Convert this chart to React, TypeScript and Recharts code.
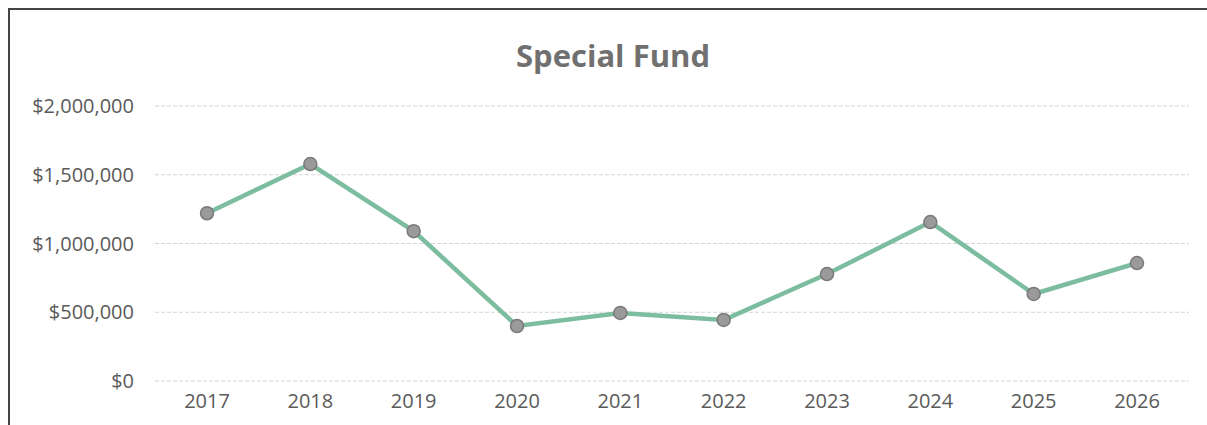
import { CartesianGrid, Line, LineChart, XAxis, YAxis } from "recharts";

const years = ["2017", "2018", "2019", "2020", "2021", "2022", "2023", "2024", "2025", "2026"];
const fundValues = [1220000, 1578000, 1090000, 400000, 495000, 444000, 778000, 1156000, 633000, 858000];
const yTicks = [0, 500000, 1000000, 1500000, 2000000];

const data = years.map((year, i) => ({ year, value: fundValues[i] }));

const fmt = (v: number) => "$" + v.toLocaleString("en-US");

export default function App() {
  const font = "'Open Sans', 'Noto Sans', sans-serif";
  return (
    <div
      style={{
        position: "fixed",
        top: 8,
        left: 8,
        boxSizing: "border-box",
        width: 1199,
        height: 417,
        overflow: "hidden",
        borderTop: "2px solid #444",
        borderLeft: "2px solid #444",
        background: "#fff",
        fontFamily: font,
      }}
    >
      <div
        style={{
          position: "absolute",
          top: 24,
          left: 0,
          width: 1206,
          textAlign: "center",
          fontSize: 31,
          fontWeight: 700,
          color: "#707070",
        }}
      >
        Special Fund
      </div>
      <LineChart
        width={1197}
        height={415}
        data={data}
        margin={{ top: 96, right: 18, bottom: 8, left: 0 }}
      >
        <CartesianGrid vertical={false} stroke="#d4d4d4" strokeDasharray="4 2" />
        <XAxis
          dataKey="year"
          height={36}
          axisLine={false}
          tickLine={false}
          padding={{ left: 52, right: 52 }}
          tick={{ fill: "#5a5a5a", fontSize: 20, fontFamily: font }}
          tickMargin={7}
        />
        <YAxis
          width={145}
          domain={[0, 2000000]}
          ticks={yTicks}
          tickFormatter={fmt}
          axisLine={false}
          tickLine={false}
          tick={{ fill: "#5a5a5a", fontSize: 20, fontFamily: font }}
          tickMargin={15}
        />
        <Line
          dataKey="value"
          stroke="#7bbd9e"
          strokeWidth={4.5}
          dot={{ r: 6.5, fill: "#9a9a9a", stroke: "#7a7a7a", strokeWidth: 1.5 }}
          isAnimationActive={false}
        />
      </LineChart>
    </div>
  );
}
